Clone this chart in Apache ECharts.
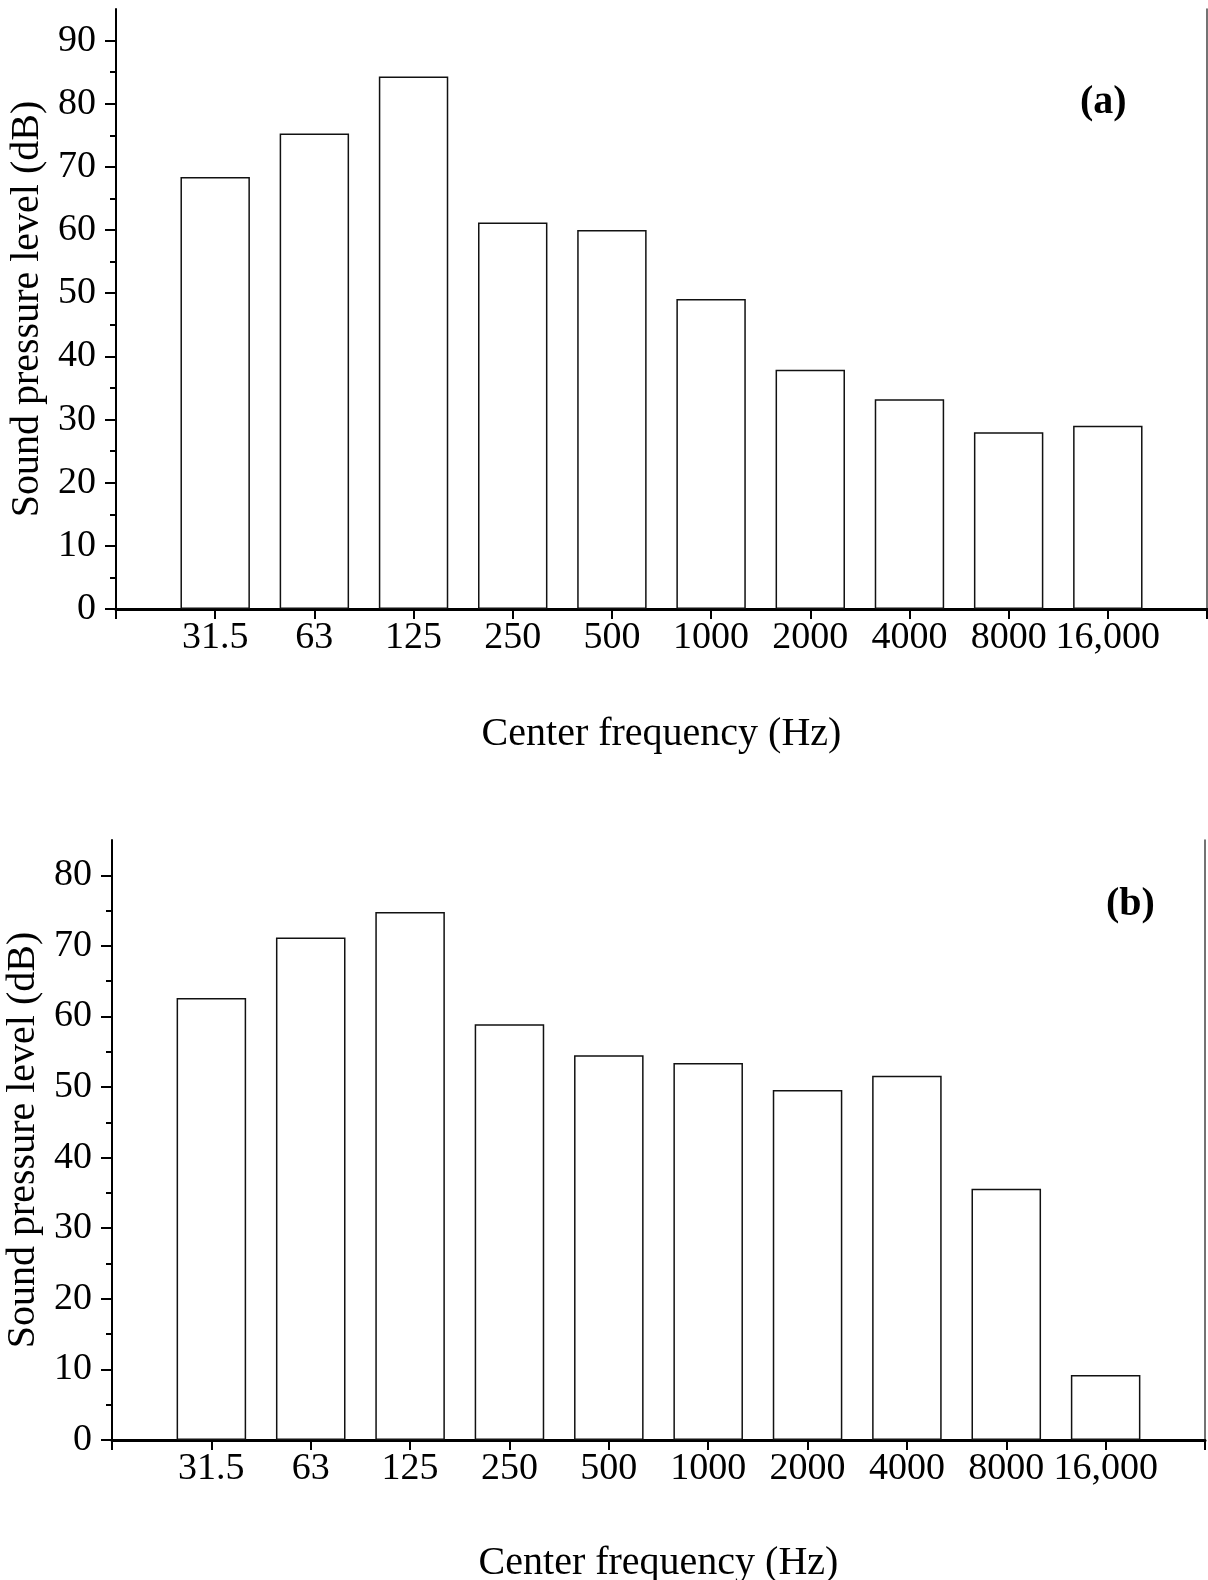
<!DOCTYPE html>
<html>
<head>
<meta charset="utf-8">
<script src="https://cdn.jsdelivr.net/npm/echarts@6/dist/echarts.min.js"></script>
<style>
  html, body { margin: 0; padding: 0; background: #fff; }
  #chart { width: 1208px; height: 1580px; }
</style>
</head>
<body>
<div id="chart"></div>
<script>
// Octave-band center frequencies (Hz)
const frequencies = ['31.5', '63', '125', '250', '500', '1000', '2000', '4000', '8000', '16,000'];

// Sound pressure levels (dB) for the two measurement cases
const levelsA = [68.4, 75.3, 84.3, 61.2, 60.0, 49.1, 37.9, 33.2, 28.0, 29.0];
const levelsB = [62.6, 71.2, 74.8, 58.9, 54.5, 53.4, 49.6, 51.6, 35.6, 9.2];

// Y-axis labelled ticks and axis tops
const yTicksA = [0, 10, 20, 30, 40, 50, 60, 70, 80, 90];
const yTicksB = [0, 10, 20, 30, 40, 50, 60, 70, 80];
const yMaxA = 95;
const yMaxB = 85;

const panelNames = ['a', 'b'];
const xTitle = 'Center frequency (Hz)';
const yTitle = 'Sound pressure level (dB)';

const FONT = "'Liberation Serif', 'Times New Roman', serif";

// category slots: an empty slot at each end so the bars sit one step in from the frame
const slots = ['', ...frequencies, ''];
const padSeries = vals => [null, ...vals, null];

const panels = [
  { grid: { left: 116, top: 9, width: 1091, height: 600 }, levels: levelsA, ticks: yTicksA, max: yMaxA,
    yNameGap: 66, xNameGap: 105, tag: { left: 1080, top: 83 } },
  { grid: { left: 112, top: 840, width: 1093, height: 600 }, levels: levelsB, ticks: yTicksB, max: yMaxB,
    yNameGap: 63, xNameGap: 103, tag: { left: 1106, top: 885 } }
];

const grids = [], xAxes = [], yAxes = [], series = [], titles = [];

panels.forEach((p, i) => {
  grids.push(Object.assign({ containLabel: false, outerBoundsMode: 'none' }, p.grid));
  const minor = p.ticks.map(v => v + 5).filter(v => v < p.max);

  // bottom category axis
  xAxes.push({
    gridIndex: i, type: 'category', position: 'bottom', data: slots, boundaryGap: false,
    axisLine: { lineStyle: { color: '#000', width: 3 } },
    axisTick: { show: true, length: 10, inside: false, interval: 0, lineStyle: { color: '#000', width: 2 } },
    axisLabel: { interval: 0, margin: 10, color: '#000', fontFamily: FONT, fontSize: 38 },
    splitLine: { show: false },
    name: xTitle, nameLocation: 'middle', nameGap: p.xNameGap,
    nameTextStyle: { color: '#000', fontFamily: FONT, fontSize: 40 }
  });
  // top frame line
  xAxes.push({
    gridIndex: i, type: 'category', position: 'top', data: slots, boundaryGap: false,
    axisLine: { lineStyle: { color: '#000', width: 2 } },
    axisTick: { show: false }, axisLabel: { show: false }, splitLine: { show: false }
  });

  // left value axis with labelled ticks
  yAxes.push({
    gridIndex: i, type: 'value', position: 'left', min: 0, max: p.max,
    axisLine: { show: true, lineStyle: { color: '#000', width: 2 } },
    axisTick: { show: true, length: 11, customValues: p.ticks, lineStyle: { color: '#000', width: 2 } },
    axisLabel: { customValues: p.ticks, margin: 20, color: '#000', fontFamily: FONT, fontSize: 38 },
    splitLine: { show: false },
    name: yTitle, nameLocation: 'middle', nameRotate: 90, nameGap: p.yNameGap,
    nameTextStyle: { color: '#000', fontFamily: FONT, fontSize: 40 }
  });
  // minor ticks between labelled values
  yAxes.push({
    gridIndex: i, type: 'value', position: 'left', offset: 0, min: 0, max: p.max,
    axisLine: { show: false },
    axisTick: { show: true, length: 6, customValues: minor, lineStyle: { color: '#000', width: 2 } },
    axisLabel: { show: false }, splitLine: { show: false }
  });
  // right frame line
  yAxes.push({
    gridIndex: i, type: 'value', position: 'right', min: 0, max: p.max,
    axisLine: { show: true, lineStyle: { color: '#444', width: 1.5 } },
    axisTick: { show: false }, axisLabel: { show: false }, splitLine: { show: false }
  });

  series.push({
    type: 'bar', xAxisIndex: i * 2, yAxisIndex: i * 3,
    data: padSeries(p.levels), barWidth: '70%',
    itemStyle: { color: '#fff', borderColor: '#111', borderWidth: 1.5 },
    silent: true, animation: false
  });

  titles.push({
    text: '{p|(}{b|' + panelNames[i] + '}{p|)}', left: p.tag.left, top: p.tag.top, padding: 0,
    textStyle: { rich: {
      p: { fontFamily: FONT, fontSize: 40, color: '#000' },
      b: { fontFamily: FONT, fontSize: 40, fontWeight: 'bold', color: '#000' }
    } }
  });
});

const chart = echarts.init(document.getElementById('chart'), null, { renderer: 'canvas' });
chart.setOption({
  animation: false,
  backgroundColor: '#fff',
  title: titles,
  grid: grids,
  xAxis: xAxes,
  yAxis: yAxes,
  series: series
});
</script>
</body>
</html>
